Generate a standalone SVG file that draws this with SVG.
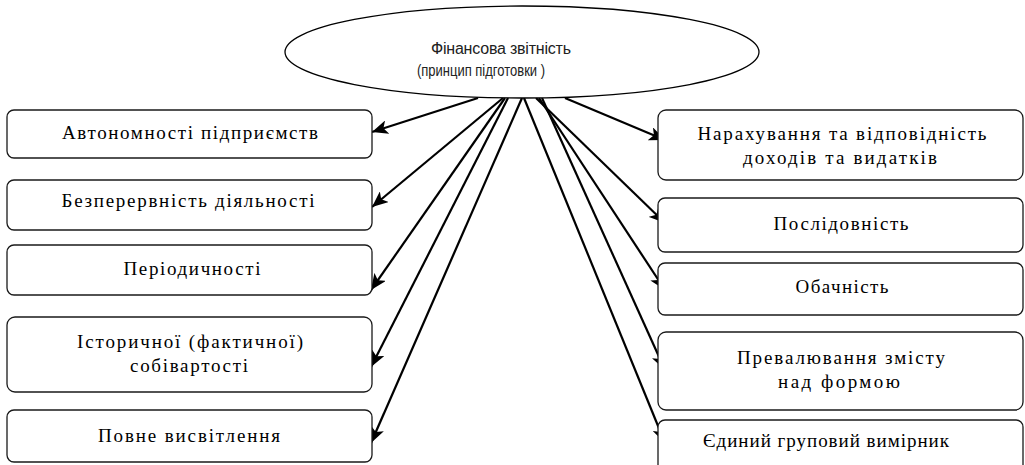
<svg xmlns="http://www.w3.org/2000/svg" width="1025" height="465" viewBox="0 0 1025 465">
<style>
.box{fill:#fff;stroke:#1a1a1a;stroke-width:1.3}
.t{font-family:"Liberation Serif","DejaVu Serif",serif;font-size:19px;fill:#000;text-anchor:middle}
.et{font-family:"Liberation Sans","DejaVu Sans",sans-serif;font-size:16px;fill:#222;text-anchor:middle}
.c{stroke:#000;stroke-width:2.2;fill:none;marker-end:url(#ah)}
</style>
<defs>
<marker id="ah" markerUnits="userSpaceOnUse" markerWidth="18" markerHeight="14" refX="16" refY="7" orient="auto">
<path d="M0,0 L16,7 L0,14 L4,7 z" fill="#000"/>
</marker>
</defs>
<rect width="1025" height="465" fill="#fff"/>
<g id="connectors">
<line class="c" x1="478" y1="98" x2="372" y2="132"/>
<line class="c" x1="503" y1="98" x2="372" y2="207"/>
<line class="c" x1="505" y1="98" x2="371" y2="290"/>
<line class="c" x1="508" y1="98" x2="371" y2="367"/>
<line class="c" x1="522" y1="98" x2="371" y2="443"/>
<line class="c" x1="565" y1="98" x2="665" y2="140"/>
<line class="c" x1="536" y1="98" x2="665" y2="223"/>
<line class="c" x1="539" y1="98" x2="665" y2="290"/>
<line class="c" x1="542" y1="98" x2="665" y2="370"/>
<line class="c" x1="524" y1="98" x2="665" y2="443"/>
</g>
<g id="root">
<ellipse cx="522" cy="52" rx="237" ry="46" fill="#fff" stroke="#000" stroke-width="1.3"/>
<text class="et" x="501" y="54" textLength="140" lengthAdjust="spacing">Фінансова звітність</text>
<text class="et" x="481" y="76" textLength="128" lengthAdjust="spacingAndGlyphs">(принцип підготовки )</text>
</g>
<g id="left1"><rect class="box" x="7" y="110" width="365" height="48" rx="7"/><text class="t" x="190" y="139" textLength="256" lengthAdjust="spacing">Автономності підприємств</text></g>
<g id="left2"><rect class="box" x="7" y="180" width="365" height="50" rx="7"/><text class="t" x="188" y="207" textLength="253" lengthAdjust="spacing">Безперервність діяльності</text></g>
<g id="left3"><rect class="box" x="7" y="245" width="365" height="50" rx="7"/><text class="t" x="192" y="275" textLength="137" lengthAdjust="spacing">Періодичності</text></g>
<g id="left4"><rect class="box" x="7" y="317" width="365" height="75" rx="8"/><text class="t" x="190" y="348" textLength="226" lengthAdjust="spacing">Історичної (фактичної)</text><text class="t" x="189" y="372" textLength="118" lengthAdjust="spacing">собівартості</text></g>
<g id="left5"><rect class="box" x="7" y="410" width="365" height="52" rx="7"/><text class="t" x="189" y="442" textLength="182" lengthAdjust="spacing">Повне висвітлення</text></g>
<g id="right1"><rect class="box" x="658" y="110" width="365" height="70" rx="8"/><text class="t" x="842" y="140" textLength="289" lengthAdjust="spacing">Нарахування та відповідність</text><text class="t" x="840" y="164" textLength="194" lengthAdjust="spacing">доходів та видатків</text></g>
<g id="right2"><rect class="box" x="658" y="198" width="365" height="54" rx="7"/><text class="t" x="841" y="230" textLength="135" lengthAdjust="spacing">Послідовність</text></g>
<g id="right3"><rect class="box" x="658" y="263" width="365" height="52" rx="7"/><text class="t" x="842" y="293" textLength="93" lengthAdjust="spacing">Обачність</text></g>
<g id="right4"><rect class="box" x="658" y="332" width="365" height="78" rx="8"/><text class="t" x="841" y="364" textLength="208" lengthAdjust="spacing">Превалювання змісту</text><text class="t" x="839" y="388" textLength="122" lengthAdjust="spacing">над формою</text></g>
<g id="right5"><rect class="box" x="658" y="420" width="365" height="70" rx="7"/><text class="t" x="826" y="447" textLength="246" lengthAdjust="spacing">Єдиний груповий вимірник</text></g>
</svg>
